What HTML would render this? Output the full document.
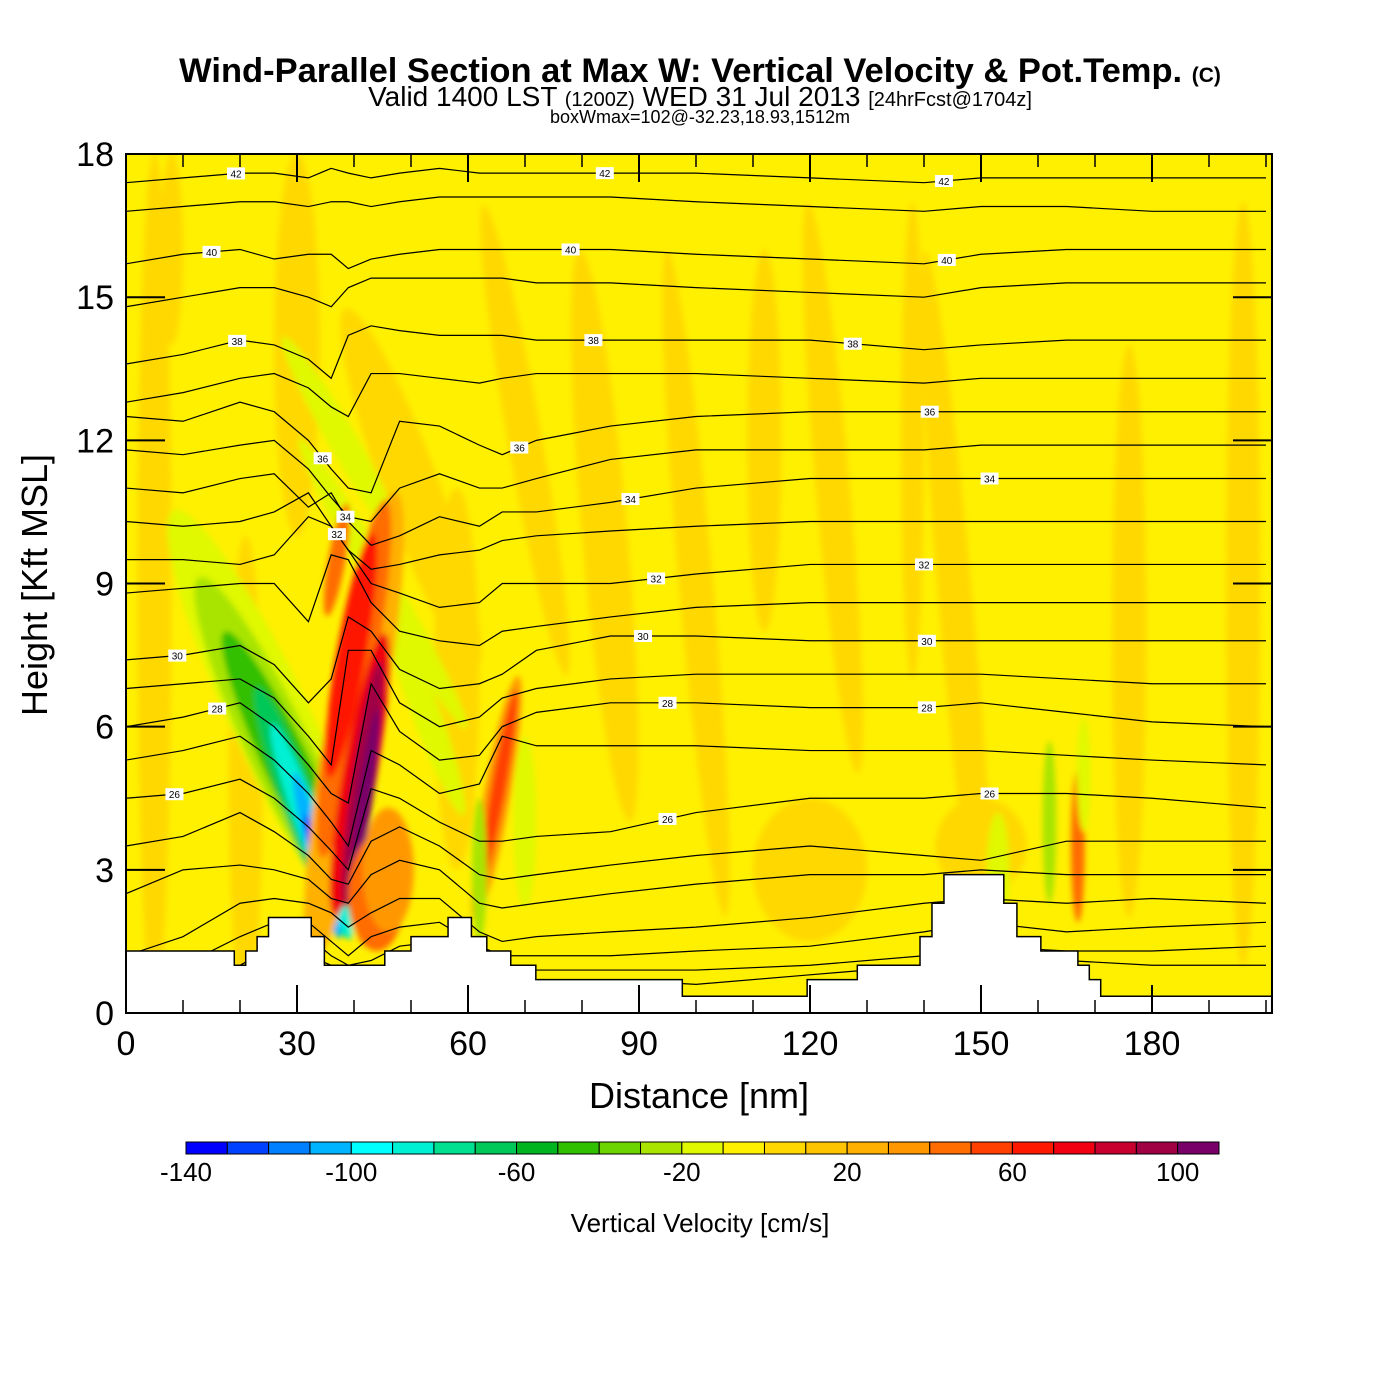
<!DOCTYPE html>
<html><head><meta charset="utf-8"><style>
html,body{margin:0;padding:0;background:#fff}
svg{display:block}
text{font-family:"Liberation Sans",sans-serif}
</style></head><body>
<svg id="chart" width="1400" height="1400" viewBox="0 0 1400 1400" xmlns="http://www.w3.org/2000/svg">
<defs>
<clipPath id="plotclip"><rect x="126" y="154" width="1146" height="859"/></clipPath>
<filter id="soft"><feGaussianBlur stdDeviation="3"/></filter>
</defs>
<text x="700" y="82" font-size="34.5" font-weight="bold" text-anchor="middle">Wind-Parallel Section at Max W: Vertical Velocity &amp; Pot.Temp. <tspan font-size="21">(C)</tspan></text>
<text x="700" y="106" font-size="28" text-anchor="middle">Valid 1400 LST <tspan font-size="20">(1200Z)</tspan> WED 31 Jul 2013 <tspan font-size="20">[24hrFcst@1704z]</tspan></text>
<text x="700" y="123" font-size="18" text-anchor="middle">boxWmax=102@-32.23,18.93,1512m</text>
<rect x="126" y="154" width="1146" height="859" fill="#fff000"/>
<g id="field" clip-path="url(#plotclip)" filter="url(#soft)"></g>
<g id="contours" clip-path="url(#plotclip)"></g>
<g id="terrain" clip-path="url(#plotclip)"></g>
<g id="clabels"></g>
<rect x="126" y="154" width="1146" height="859" fill="none" stroke="#000" stroke-width="2"/>
<g id="axes"></g>
<g id="colorbar"></g>
<text x="699" y="1108" font-size="36" text-anchor="middle">Distance [nm]</text>
<text transform="translate(47,585) rotate(-90)" font-size="36" text-anchor="middle">Height [Kft MSL]</text>
<text x="700" y="1232" font-size="26" text-anchor="middle">Vertical Velocity [cm/s]</text>
</svg>
<script>
const xTicks=[0,30,60,90,120,150,180];
const yTicks=[0,3,6,9,12,15,18];
const cbLabels=[-140,-100,-60,-20,20,60,100];
const cbColors=["#0000ff","#0040ff","#0080ff","#00b4ff","#00ffff","#00f0d4","#00e090","#00c858","#00b420","#30c000","#6cd400","#a8e400","#e0f800","#fff000","#ffd800","#ffc400","#ffb000","#ff9800","#ff6c00","#ff4000","#ff1800","#f00010","#c80030","#a00044","#780068"];
const dist=[0,10,20,26,32,36,39,43,48,55,62,66,72,85,100,120,140,150,165,180,200];
const levels=[42,41,40,39,38,37,36,35,34,33,32,31,30,29,28,27,26,25,24,23,22,21,20];
const h42=[17.4,17.5,17.6,17.6,17.5,17.7,17.6,17.5,17.6,17.7,17.6,17.6,17.6,17.6,17.6,17.5,17.4,17.5,17.5,17.5,17.5];
const h41=[16.8,16.9,17.0,17.0,16.9,17.0,17.0,16.9,17.0,17.1,17.1,17.1,17.1,17.1,17.0,16.9,16.8,16.9,16.9,16.8,16.8];
const h40=[15.7,15.9,16.0,15.8,15.9,15.9,15.6,15.8,15.9,16.0,16.0,16.0,16.0,16.0,15.9,15.8,15.7,15.9,16.0,16.0,16.0];
const h39=[14.8,15.0,15.2,15.2,15.0,14.8,15.2,15.4,15.4,15.4,15.4,15.4,15.3,15.3,15.2,15.1,15.0,15.2,15.3,15.3,15.3];
const h38=[13.6,13.8,14.1,14.0,13.7,13.3,14.2,14.4,14.3,14.2,14.2,14.2,14.1,14.1,14.1,14.1,13.9,14.0,14.1,14.1,14.1];
const h37=[12.8,13.0,13.3,13.4,13.1,12.7,12.5,13.4,13.4,13.3,13.2,13.3,13.4,13.4,13.4,13.3,13.2,13.3,13.3,13.3,13.3];
const h36=[12.5,12.4,12.8,12.6,12.0,11.4,11.0,10.9,12.4,12.3,11.9,11.7,12.0,12.3,12.5,12.6,12.6,12.6,12.6,12.6,12.6];
const h35=[11.8,11.7,11.9,12.0,11.4,10.8,10.4,10.3,11.0,11.3,11.0,11.0,11.2,11.6,11.8,11.8,11.8,11.9,11.9,11.9,11.9];
const h34=[11.0,10.9,11.2,11.3,10.6,10.9,10.3,9.8,10.0,10.4,10.2,10.5,10.5,10.7,11.0,11.2,11.2,11.2,11.2,11.2,11.2];
const h33=[10.3,10.2,10.3,10.5,10.9,10.2,9.7,9.3,9.4,9.6,9.7,9.9,10.0,10.1,10.2,10.3,10.3,10.3,10.3,10.3,10.3];
const h32=[9.5,9.5,9.4,9.6,10.4,10.2,9.7,9.0,8.8,8.5,8.6,9.0,9.0,9.0,9.2,9.4,9.4,9.4,9.4,9.4,9.4];
const h31=[8.8,8.9,9.0,9.0,8.2,9.6,9.5,8.6,8.0,7.8,7.7,8.0,8.1,8.3,8.5,8.6,8.6,8.6,8.6,8.6,8.6];
const h30=[7.4,7.5,7.7,7.3,6.5,7.0,8.3,8.0,7.2,6.8,6.9,7.1,7.6,7.9,7.9,7.8,7.8,7.8,7.8,7.8,7.8];
const h29=[6.8,6.9,7.0,6.6,5.8,5.2,7.6,7.6,6.5,6.0,6.2,6.6,6.8,7.0,7.1,7.1,7.1,7.1,7.0,6.9,6.9];
const h28=[6.0,6.2,6.5,6.0,5.2,4.6,4.4,6.9,5.9,5.3,5.4,6.0,6.3,6.5,6.5,6.4,6.4,6.5,6.3,6.1,6.0];
const h27=[5.3,5.5,5.8,5.3,4.6,4.0,3.5,5.5,5.2,4.6,4.8,5.8,5.6,5.6,5.6,5.5,5.5,5.5,5.4,5.3,5.2];
const h26=[4.5,4.6,4.9,4.5,3.9,3.4,3.0,4.7,4.5,4.0,3.6,3.6,3.7,3.8,4.2,4.5,4.5,4.6,4.6,4.5,4.3];
const h25=[3.5,3.7,4.2,3.8,3.3,2.8,2.7,3.6,3.9,3.5,2.9,2.8,2.9,3.1,3.3,3.5,3.3,3.2,3.6,3.6,3.6];
const h24=[2.5,3.0,3.1,3.0,2.8,2.4,2.3,2.9,3.2,3.0,2.3,2.2,2.3,2.5,2.7,2.9,2.9,3.0,2.9,2.9,2.9];
const h23=[1.2,1.6,2.3,2.4,2.3,2.1,1.8,2.1,2.4,2.4,1.7,1.5,1.6,1.7,1.8,2.0,2.3,2.4,2.3,2.4,2.3];
const h22=[0.5,1.0,1.6,1.9,1.9,1.5,1.2,1.6,1.8,1.9,1.4,1.2,1.2,1.2,1.3,1.4,1.7,1.9,1.7,1.8,1.9];
const h21=[0.4,0.5,1.0,1.4,1.6,1.2,1.0,1.1,1.4,1.5,1.2,0.9,0.9,0.9,0.9,1.0,1.2,1.4,1.3,1.3,1.4];
const h20=[0.3,0.3,0.6,1.0,1.2,1.0,0.9,0.9,1.0,1.1,0.9,0.8,0.7,0.7,0.6,0.8,1.0,1.2,1.1,1.0,1.0];
const contourHeights=[h42,h41,h40,h39,h38,h37,h36,h35,h34,h33,h32,h31,h30,h29,h28,h27,h26,h25,h24,h23,h22,h21,h20];
// field features: distance, height, w value
const featDist=[5,21,30,50,58,70,84,100,112,124,138,146,176,196,120,150,8,26,27,29,31,32.5,33.5,34,38,45,52,40,40,39.5,41,41.5,42,37,44,46,65,65.5,62,70,162,167,168,153];
const featHgt=[9,5,14,11,7,12,10,9,12,11,12,8,8,9,3,3.5,16,6,5.5,5,4.2,3.8,3.3,3,12,9,6.5,6,7,7.5,5,4.8,4.5,9.5,2.5,3,4.5,4.8,3,4,4,3.5,5,3];
const featVal=[5,5,5,5,5,5,5,5,5,5,5,5,5,5,5,5,5,-15,-25,-45,-65,-85,-105,-125,-15,-15,-15,25,45,65,75,95,105,45,45,35,35,55,-25,-15,-25,40,-15,-15];
// shape of features (not data): half-width nm, half-height kft, tilt deg
const featShape=[[3,9,0],[3,5,0],[4,4,0],[5,4,-20],[4,4,0],[3,5,-10],[4,6,-5],[3,7,-5],[3,4,0],[3,6,-5],[2,5,0],[3,8,-5],[3,6,0],[3,8,0],[10,1.5,0],[8,1,0],[2,2,0],[7,5,-25],[5.5,4,-25],[4,3.3,-25],[3,2.8,-20],[2.2,2.4,-20],[1.6,1.8,-15],[1,1.2,-15],[2.5,2.5,-30],[2.5,3.5,-30],[2.5,2.5,-20],[5,5,10],[3.5,3.8,10],[2.6,2.6,10],[3,3,10],[2,2.6,8],[1.3,1.9,8],[1.5,1.2,10],[5,1.2,0],[4.5,1.3,0],[2.3,2.6,10],[1.3,2,10],[1.3,1.5,0],[2,1.8,0],[1.2,1.7,0],[1.2,1.6,0],[1.2,1.2,0],[2,1.2,0]];
const terrDist=[0,19,21,23,25,32.5,34.8,45.4,50,56.5,60.6,63.3,67.5,71.9,97.6,119.5,128.3,139.3,141.4,143.5,154,156.3,160.5,167,169,171,201];
const terrHgt=[1.3,1.0,1.3,1.6,2.0,1.6,1.0,1.3,1.6,2.0,1.6,1.3,1.0,0.7,0.35,0.7,1.0,1.6,2.3,2.9,2.3,1.6,1.3,1.0,0.7,0.35,0.35];
const labelLevels=[42,42,42,40,40,40,38,38,38,36,36,36,34,34,34,32,32,32,30,30,30,28,28,28,26,26,26];
const labelDist=[19.3,84,143.5,15,78,144,19.5,82,127.5,34.5,69,141,38.5,88.5,151.5,37,93,140,9,90.7,140.5,16,95,140.5,8.5,95,151.5];

const NS="http://www.w3.org/2000/svg";
const X=d=>126+d*5.7, Y=h=>1013-h*47.72;
function el(tag,attrs,parent){const e=document.createElementNS(NS,tag);for(const k in attrs)e.setAttribute(k,attrs[k]);parent.appendChild(e);return e;}
const colorOf=v=>cbColors[Math.max(0,Math.min(24,Math.floor((v+140)/10)))];

const field=document.getElementById('field');
for(let i=0;i<featDist.length;i++){
  const [rw,rh,tilt]=featShape[i];
  const cx=X(featDist[i]),cy=Y(featHgt[i]);
  const e=el('ellipse',{cx:cx,cy:cy,rx:rw*5.7,ry:rh*47.72,fill:colorOf(featVal[i]),transform:`rotate(${tilt} ${cx} ${cy})`},field);
  
  
}
const cg=document.getElementById('contours');
contourHeights.forEach((arr,k)=>{
  const pts=arr.map((h,i)=>X(dist[i])+','+Y(h)).join(' ');
  const p=el('polyline',{points:pts,fill:'none',stroke:'#000','stroke-width':1.2},cg);
  
  
});
const tg=document.getElementById('terrain');
let tp=`M${X(0)},1015 `;
for(let i=0;i<terrDist.length;i++){ if(i>0) tp+=`L${X(terrDist[i])},${Y(terrHgt[i-1])} `; tp+=`L${X(terrDist[i])},${Y(terrHgt[i])} `; }
tp+=`L${X(201)},1015 Z`;
const terr=el('path',{d:tp,fill:'#fff',stroke:'#000','stroke-width':1.5},tg);


function interp(arr,d){for(let i=0;i<dist.length-1;i++){if(d>=dist[i]&&d<=dist[i+1]){const t=(d-dist[i])/(dist[i+1]-dist[i]);return arr[i]+t*(arr[i+1]-arr[i]);}}return arr[arr.length-1];}
const lg=document.getElementById('clabels');
labelLevels.forEach((lv,i)=>{
  const arr=contourHeights[levels.indexOf(lv)];
  const x=X(labelDist[i]),y=Y(interp(arr,labelDist[i]));
  const g=el('g',{},lg);
  
  
  el('rect',{x:x-9,y:y-6,width:18,height:12,fill:'#fff'},g);
  const t=el('text',{x:x,y:y+4,'font-size':10,'text-anchor':'middle'},g);t.textContent=lv;
});
const ax=document.getElementById('axes');
xTicks.forEach(v=>{
  const x=X(v);
  const l=el('line',{x1:x,y1:1013,x2:x,y2:985,stroke:'#000','stroke-width':2},ax);
  
  el('line',{x1:x,y1:154,x2:x,y2:182,stroke:'#000','stroke-width':2},ax);
  const t=el('text',{x:x,y:1055,'font-size':34,'text-anchor':'middle'},ax);t.textContent=v;
  
  for(let m=10;m<30&&v+m<=200;m+=10){const xm=X(v+m);el('line',{x1:xm,y1:1013,x2:xm,y2:1000,stroke:'#000','stroke-width':1.5},ax);el('line',{x1:xm,y1:154,x2:xm,y2:167,stroke:'#000','stroke-width':1.5},ax);}
});
yTicks.forEach(v=>{
  const y=Y(v);
  const l=el('line',{x1:126,y1:y,x2:165,y2:y,stroke:'#000','stroke-width':2},ax);
  
  el('line',{x1:1272,y1:y,x2:1233,y2:y,stroke:'#000','stroke-width':2},ax);
  const t=el('text',{x:114,y:y+12,'font-size':34,'text-anchor':'end'},ax);t.textContent=v;
  
});
const cb=document.getElementById('colorbar');
const cbX=v=>186+(v+140)*4.132;
cbColors.forEach((c,i)=>{
  const r=el('rect',{x:cbX(-140+i*10),y:1142,width:4.132*10,height:12,fill:c,stroke:'#000','stroke-width':1},cb);
  
});
cbLabels.forEach(v=>{
  const t=el('text',{x:cbX(v),y:1181,'font-size':26,'text-anchor':'middle'},cb);t.textContent=v;
  
});
</script>
</body></html>
